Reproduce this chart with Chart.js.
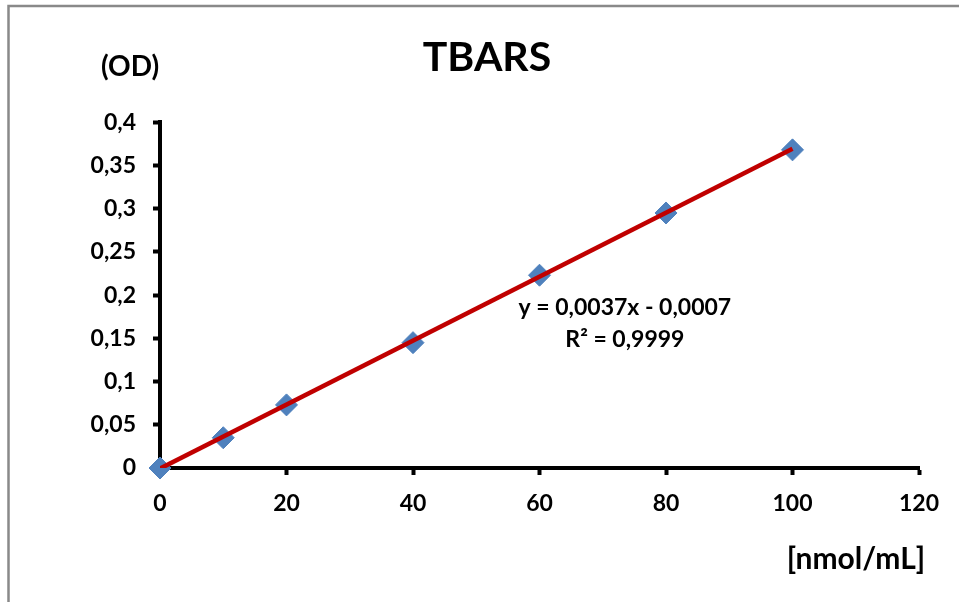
<!DOCTYPE html>
<html>
<head>
<meta charset="utf-8">
<script src="https://cdn.jsdelivr.net/npm/chart.js@4/dist/chart.umd.min.js"></script>
<style>
  html, body { margin: 0; padding: 0; background: #fff; }
  #wrap { position: relative; width: 959px; height: 602px; }
  canvas { display: block; }
</style>
</head>
<body>
<div id="wrap"><canvas id="c" width="959" height="602"></canvas></div>
<script>
// ---- data ----
const concentrations = [0, 10, 20, 40, 60, 80, 100];          // nmol/mL
const odValues       = [0, 0.035, 0.073, 0.145, 0.223, 0.295, 0.368];
const trendX = [0, 100];
const trendY = [-0.0007, 0.3693];
const yTickLabels = ['0', '0,05', '0,1', '0,15', '0,2', '0,25', '0,3', '0,35', '0,4'];
const xTickLabels = ['0', '20', '40', '60', '80', '100', '120'];
const chartTitle = 'TBARS';
const yAxisTitle = '(OD)';
const xAxisTitle = '[nmol/mL]';
const equationLines = ['y = 0,0037x - 0,0007', 'R\u00B2 = 0,9999'];
const equationAnchor = { x: 73.5, y: 0.186 };

const FONT = 'Lato, "Open Sans", "DejaVu Sans", sans-serif';

const pointData = concentrations.map((x, i) => ({ x: x, y: odValues[i] }));
const trendData = trendX.map((x, i) => ({ x: x, y: trendY[i] }));

const extras = {
  id: 'extras',
  beforeDraw(chart) {
    const ctx = chart.ctx;
    ctx.save();
    ctx.strokeStyle = '#898989';
    ctx.lineWidth = 2.5;
    ctx.beginPath();
    ctx.moveTo(8.5, 602);
    ctx.lineTo(8.5, 6);
    ctx.lineTo(959, 6);
    ctx.stroke();
    ctx.restore();
  },
  afterDraw(chart) {
    const ctx = chart.ctx;
    const xs = chart.scales.x, ys = chart.scales.y;
    ctx.save();
    ctx.fillStyle = '#000';
    ctx.textAlign = 'center';
    ctx.textBaseline = 'middle';
    ctx.font = 'bold 28px ' + FONT;
    ctx.fillText(yAxisTitle, chart.chartArea.left - 30, 67);
    ctx.font = 'bold 30px ' + FONT;
    ctx.fillText(xAxisTitle, chart.chartArea.right - 63, 559);
    ctx.font = 'bold 23px ' + FONT;
    const ex = xs.getPixelForValue(equationAnchor.x);
    const ey = ys.getPixelForValue(equationAnchor.y);
    ctx.fillText(equationLines[0], ex, ey);
    ctx.fillText(equationLines[1], ex, ey + 32);
    ctx.restore();
  }
};

new Chart(document.getElementById('c'), {
  type: 'scatter',
  data: {
    datasets: [
      {
        label: 'Trend',
        data: trendData,
        showLine: true,
        borderColor: '#C00000',
        borderWidth: 4.5,
        pointRadius: 0,
        order: 0
      },
      {
        label: 'TBARS',
        data: pointData,
        pointStyle: 'rectRot',
        pointRadius: 11,
        backgroundColor: '#4F81BD',
        borderColor: '#4F81BD',
        borderWidth: 1,
        clip: false,
        order: 1
      }
    ]
  },
  options: {
    responsive: false,
    animation: false,
    events: [],
    layout: { padding: { left: 55, right: 40, top: 0, bottom: 0 } },
    plugins: {
      legend: { display: false },
      tooltip: { enabled: false },
      title: {
        display: true,
        text: chartTitle,
        color: '#000',
        font: { family: FONT, size: 41, weight: 'bold', lineHeight: 1.2 },
        padding: { top: 33, bottom: 40 }
      }
    },
    scales: {
      x: {
        type: 'linear',
        min: 0,
        max: 120,
        afterFit(s) { s.height = 134; },
        ticks: {
          stepSize: 20,
          padding: 15,
          color: '#000',
          font: { family: FONT, size: 23, weight: 'bold' },
          callback: (v, i) => xTickLabels[i]
        },
        border: { display: true, color: '#000', width: 4 },
        grid: { drawOnChartArea: false, drawTicks: true, tickLength: 7, tickWidth: 4, tickColor: '#000' }
      },
      y: {
        type: 'linear',
        min: 0,
        max: 0.4,
        afterFit(s) { s.width = 105; },
        ticks: {
          stepSize: 0.05,
          padding: 17,
          color: '#000',
          font: { family: FONT, size: 23, weight: 'bold' },
          callback: (v, i) => yTickLabels[i]
        },
        border: { display: true, color: '#000', width: 4 },
        grid: { drawOnChartArea: false, drawTicks: true, tickLength: 7, tickWidth: 4, tickColor: '#000' }
      }
    }
  },
  plugins: [extras]
});
</script>
</body>
</html>
